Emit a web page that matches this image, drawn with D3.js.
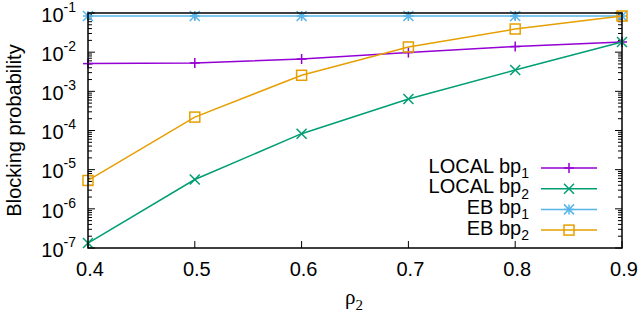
<!DOCTYPE html>
<html><head><meta charset="utf-8">
<script src="https://cdn.jsdelivr.net/npm/d3@7"></script>
<style>body{margin:0;background:#fff}svg{display:block}</style>
</head><body>
<svg id="c" width="639" height="322"></svg>
<script>
const rho = [0.4, 0.5, 0.6, 0.7, 0.8, 0.9];
const localBp1 = [0.0051, 0.0053, 0.0067, 0.00976, 0.0139, 0.0182];
const localBp2 = [1.34e-7, 5.6e-6, 8.3e-5, 6.4e-4, 3.5e-3, 0.0182];
const ebBp1 = [0.0838, 0.0838, 0.0838, 0.0838, 0.0838, 0.0838];
const ebBp2 = [5.3e-6, 2.2e-4, 2.57e-3, 0.01355, 0.039, 0.0838];
const xTicks = [0.4, 0.5, 0.6, 0.7, 0.8, 0.9];
const yExps = [-7, -6, -5, -4, -3, -2, -1];

const series = [
  {name:"LOCAL bp", sub:"1", values:localBp1, color:"#9400d3", marker:"plus"},
  {name:"LOCAL bp", sub:"2", values:localBp2, color:"#009e73", marker:"cross"},
  {name:"EB bp", sub:"1", values:ebBp1, color:"#56b4e9", marker:"star"},
  {name:"EB bp", sub:"2", values:ebBp2, color:"#e69f00", marker:"square"}
];

const L = 88, R = 622, T = 13, B = 248;
const svg = d3.select("#c");
const x = d3.scaleLinear().domain([0.4, 0.9]).range([L, R]);
const y = d3.scaleLog().domain([1e-7, 1e-1]).range([B, T]);
const font = "'Liberation Sans', Arial, sans-serif";

// ticks (mirrored)
const tg = svg.append("g").attr("stroke", "#000").attr("stroke-width", 1);
yExps.forEach(e => {
  const yy = y(Math.pow(10, e));
  tg.append("line").attr("x1", L).attr("x2", L + 7).attr("y1", yy).attr("y2", yy);
  tg.append("line").attr("x1", R).attr("x2", R - 7).attr("y1", yy).attr("y2", yy);
  if (e < -1) {
    for (let m = 2; m <= 9; m++) {
      const yv = y(m * Math.pow(10, e));
      tg.append("line").attr("x1", L).attr("x2", L + 4).attr("y1", yv).attr("y2", yv);
      tg.append("line").attr("x1", R).attr("x2", R - 4).attr("y1", yv).attr("y2", yv);
    }
  }
});
xTicks.forEach(t => {
  const xx = x(t);
  tg.append("line").attr("x1", xx).attr("x2", xx).attr("y1", B).attr("y2", B - 7);
  tg.append("line").attr("x1", xx).attr("x2", xx).attr("y1", T).attr("y2", T + 7);
});

// y tick labels
yExps.forEach(e => {
  const t = svg.append("text").attr("x", 76).attr("y", y(Math.pow(10, e)) + 8.7)
    .attr("text-anchor", "end").attr("font-family", font).attr("font-size", 20).attr("fill", "#000");
  t.append("tspan").text("10");
  t.append("tspan").attr("dy", -10).attr("font-size", 14).text(String(e));
});
// x tick labels
xTicks.forEach(tk => {
  svg.append("text").attr("x", x(tk) + 2).attr("y", 276).attr("text-anchor", "middle")
    .attr("font-family", font).attr("font-size", 20).attr("fill", "#000").text(d3.format(".1f")(tk));
});

// axis titles
svg.append("text").attr("transform", `translate(21,${(T + B) / 2}) rotate(-90)`)
  .attr("text-anchor", "middle").attr("font-family", font).attr("font-size", 20).attr("fill", "#000")
  .text("Blocking probability");
const xl = svg.append("text").attr("x", 345).attr("y", 304).attr("font-family", "'Liberation Serif', serif")
  .attr("font-size", 21).attr("fill", "#000");
xl.append("tspan").text("ρ");
xl.append("tspan").attr("dy", 6).attr("font-size", 15).text("2");

function drawMarker(g, cx, cy, type, color) {
  const s = 5;
  const m = g.append("g").attr("stroke", color).attr("stroke-width", 1.5).attr("fill", "none");
  if (type === "plus" || type === "star") {
    m.append("line").attr("x1", cx - s).attr("x2", cx + s).attr("y1", cy).attr("y2", cy);
    m.append("line").attr("x1", cx).attr("x2", cx).attr("y1", cy - s).attr("y2", cy + s);
  }
  if (type === "cross" || type === "star") {
    m.append("line").attr("x1", cx - s).attr("x2", cx + s).attr("y1", cy - s).attr("y2", cy + s);
    m.append("line").attr("x1", cx - s).attr("x2", cx + s).attr("y1", cy + s).attr("y2", cy - s);
  }
  if (type === "square") {
    m.append("rect").attr("x", cx - s).attr("y", cy - s).attr("width", 2 * s).attr("height", 2 * s);
  }
}

const line = d3.line().x(d => x(d[0])).y(d => y(d[1]));
series.forEach(s => {
  const pts = rho.map((r, i) => [r, s.values[i]]);
  svg.append("path").attr("d", line(pts)).attr("fill", "none").attr("stroke", s.color).attr("stroke-width", 1.5);
  pts.forEach(p => drawMarker(svg, x(p[0]), y(p[1]), s.marker, s.color));
});

// frame
svg.append("rect").attr("x", L).attr("y", T).attr("width", R - L).attr("height", B - T)
  .attr("fill", "none").attr("stroke", "#000").attr("stroke-width", 1.5);

// legend
series.forEach((s, i) => {
  const ly = 168 + i * 20.7;
  const t = svg.append("text").attr("x", 529).attr("y", ly + 4.5).attr("text-anchor", "end")
    .attr("font-family", font).attr("font-size", 20).attr("fill", "#000");
  t.append("tspan").text(s.name);
  t.append("tspan").attr("dy", 5.5).attr("font-size", 14).text(s.sub);
  svg.append("line").attr("x1", 541).attr("x2", 597).attr("y1", ly).attr("y2", ly)
    .attr("stroke", s.color).attr("stroke-width", 1.5);
  drawMarker(svg, 569, ly, s.marker, s.color);
});
</script>
</body></html>
